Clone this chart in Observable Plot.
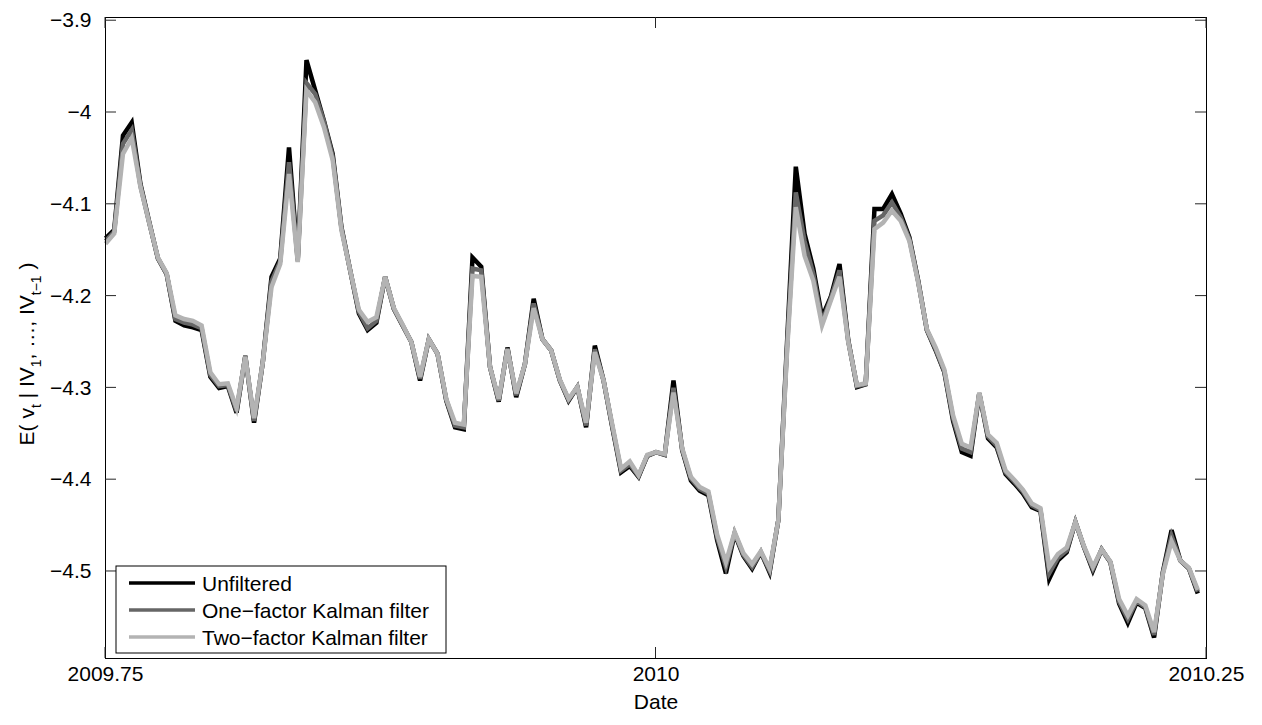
<!DOCTYPE html>
<html>
<head>
<meta charset="utf-8">
<script src="https://cdn.jsdelivr.net/npm/d3@7"></script>
<script src="https://cdn.jsdelivr.net/npm/@observablehq/plot@0.6"></script>
<style>
  html, body { margin: 0; padding: 0; background: #fff; }
  #chart svg { display: block; }
</style>
</head>
<body>
<div id="chart"></div>
<script>
// Daily observations (trading days) starting at 2009.75
const startYear = 2009.75;
const tradingDaysPerYear = 252;

const unfiltered = [
  -4.137,-4.128,-4.025,-4.011,-4.078,-4.119,-4.159,-4.176,-4.227,-4.232,
  -4.234,-4.237,-4.288,-4.300,-4.298,-4.327,-4.265,-4.338,-4.272,-4.179,
  -4.159,-4.038,-4.160,-3.943,-3.976,-4.009,-4.045,-4.125,-4.172,-4.219,
  -4.237,-4.229,-4.179,-4.214,-4.232,-4.250,-4.292,-4.247,-4.263,-4.314,
  -4.343,-4.345,-4.158,-4.168,-4.277,-4.315,-4.256,-4.310,-4.274,-4.203,
  -4.247,-4.259,-4.292,-4.314,-4.299,-4.343,-4.254,-4.292,-4.343,-4.392,
  -4.385,-4.397,-4.374,-4.370,-4.373,-4.292,-4.368,-4.401,-4.412,-4.417,
  -4.466,-4.502,-4.459,-4.483,-4.497,-4.479,-4.501,-4.444,-4.250,-4.059,
  -4.132,-4.170,-4.223,-4.201,-4.165,-4.248,-4.299,-4.296,-4.105,-4.105,
  -4.089,-4.110,-4.136,-4.183,-4.237,-4.259,-4.283,-4.336,-4.370,-4.374,
  -4.306,-4.355,-4.365,-4.394,-4.404,-4.415,-4.430,-4.434,-4.508,-4.488,
  -4.479,-4.446,-4.474,-4.499,-4.476,-4.490,-4.535,-4.556,-4.534,-4.540,
  -4.572,-4.501,-4.455,-4.488,-4.497,-4.524
];

const oneFactor = [
  -4.140,-4.130,-4.034,-4.019,-4.080,-4.120,-4.159,-4.176,-4.225,-4.229,
  -4.231,-4.235,-4.286,-4.298,-4.297,-4.325,-4.266,-4.336,-4.272,-4.184,
  -4.162,-4.054,-4.162,-3.968,-3.980,-4.010,-4.048,-4.126,-4.172,-4.217,
  -4.235,-4.227,-4.179,-4.214,-4.232,-4.250,-4.290,-4.247,-4.263,-4.313,
  -4.341,-4.343,-4.170,-4.172,-4.277,-4.314,-4.257,-4.308,-4.274,-4.208,
  -4.247,-4.259,-4.292,-4.313,-4.299,-4.341,-4.258,-4.292,-4.342,-4.390,
  -4.383,-4.396,-4.374,-4.370,-4.373,-4.300,-4.367,-4.399,-4.410,-4.415,
  -4.463,-4.495,-4.458,-4.482,-4.495,-4.479,-4.499,-4.444,-4.256,-4.087,
  -4.140,-4.176,-4.228,-4.203,-4.172,-4.249,-4.298,-4.296,-4.118,-4.112,
  -4.098,-4.114,-4.138,-4.184,-4.237,-4.258,-4.282,-4.333,-4.366,-4.370,
  -4.306,-4.353,-4.363,-4.392,-4.402,-4.413,-4.428,-4.433,-4.502,-4.485,
  -4.477,-4.446,-4.474,-4.497,-4.476,-4.490,-4.533,-4.552,-4.532,-4.539,
  -4.569,-4.502,-4.461,-4.488,-4.497,-4.522
];

const twoFactor = [
  -4.143,-4.132,-4.045,-4.028,-4.081,-4.120,-4.158,-4.175,-4.221,-4.225,
  -4.227,-4.232,-4.283,-4.296,-4.295,-4.322,-4.266,-4.333,-4.272,-4.190,
  -4.165,-4.067,-4.163,-3.976,-3.989,-4.016,-4.052,-4.128,-4.172,-4.215,
  -4.228,-4.223,-4.179,-4.213,-4.231,-4.250,-4.288,-4.247,-4.263,-4.312,
  -4.338,-4.340,-4.178,-4.179,-4.277,-4.312,-4.258,-4.306,-4.274,-4.213,
  -4.247,-4.259,-4.291,-4.312,-4.299,-4.338,-4.261,-4.292,-4.340,-4.388,
  -4.380,-4.395,-4.373,-4.370,-4.372,-4.305,-4.366,-4.397,-4.408,-4.413,
  -4.460,-4.490,-4.457,-4.480,-4.492,-4.478,-4.497,-4.444,-4.260,-4.103,
  -4.156,-4.183,-4.232,-4.205,-4.179,-4.250,-4.297,-4.295,-4.127,-4.120,
  -4.107,-4.118,-4.140,-4.185,-4.236,-4.256,-4.280,-4.330,-4.361,-4.365,
  -4.305,-4.351,-4.360,-4.390,-4.400,-4.411,-4.426,-4.431,-4.495,-4.481,
  -4.474,-4.446,-4.473,-4.495,-4.476,-4.489,-4.530,-4.548,-4.530,-4.537,
  -4.566,-4.503,-4.467,-4.488,-4.496,-4.520
];

const seriesNames = ["Unfiltered", "One\u2212factor Kalman filter", "Two\u2212factor Kalman filter"];
const seriesColors = ["#000000", "#666666", "#b3b3b3"];

const xTicks = [2009.75, 2010, 2010.25];
const xTickLabels = ["2009.75", "2010", "2010.25"];
const yTicks = [-3.9, -4, -4.1, -4.2, -4.3, -4.4, -4.5];
const yTickLabels = ["\u22123.9", "\u22124", "\u22124.1", "\u22124.2", "\u22124.3", "\u22124.4", "\u22124.5"];

// Long-format table for the line mark
const rows = [];
[unfiltered, oneFactor, twoFactor].forEach((vals, s) => {
  vals.forEach((v, i) => rows.push({series: seriesNames[s], date: startYear + i / tradingDaysPerYear, value: v}));
});

const FONT = "'Liberation Sans', Arial, Helvetica, sans-serif";

const chart = Plot.plot({
  width: 1262,
  height: 725,
  marginLeft: 105,
  marginRight: 56,
  marginTop: 17,
  marginBottom: 67,
  style: {fontFamily: FONT, fontSize: "21px", background: "#fff", color: "#000"},
  x: {domain: [2009.75, 2010.25]},
  y: {domain: [-4.5948, -3.8965]},
  color: {domain: seriesNames, range: seriesColors},
  marks: [
    Plot.line(rows, {
      x: "date", y: "value", z: "series", stroke: "series",
      strokeWidth: 4.5, strokeLinejoin: "miter", strokeMiterlimit: 4, strokeLinecap: "butt"
    }),
    Plot.frame({stroke: "#000", strokeWidth: 1}),
    Plot.axisX(xTicks, {
      tickSize: 0, tickPadding: 8, label: null, fontSize: 21,
      tickFormat: d => xTickLabels[xTicks.indexOf(d)]
    }),
    Plot.axisY(yTicks, {
      tickSize: 0, tickPadding: 14, label: null, fontSize: 21,
      tickFormat: d => yTickLabels[yTicks.indexOf(d)]
    }),
    Plot.text(["Date"], {frameAnchor: "bottom", dy: 50, fontSize: 21, fill: "#000"})
  ]
});

document.getElementById("chart").appendChild(chart);

{
  const svg = d3.select(chart);
  const sx = chart.scale("x");
  const sy = chart.scale("y");
  const [plotLeft, plotRight] = sx.range;
  const [plotBottom, plotTop] = sy.range;
  const tickLen = 11;

  // Inward tick marks on all four sides of the box
  const ticks = svg.append("g").attr("stroke", "#262626").attr("stroke-width", 1);
  xTicks.forEach(t => {
    const x = sx.apply(t);
    ticks.append("line").attr("x1", x).attr("x2", x).attr("y1", plotBottom).attr("y2", plotBottom - tickLen);
    ticks.append("line").attr("x1", x).attr("x2", x).attr("y1", plotTop).attr("y2", plotTop + tickLen);
  });
  yTicks.forEach(t => {
    const y = sy.apply(t);
    ticks.append("line").attr("x1", plotLeft).attr("x2", plotLeft + tickLen).attr("y1", y).attr("y2", y);
    ticks.append("line").attr("x1", plotRight).attr("x2", plotRight - tickLen).attr("y1", y).attr("y2", y);
  });

  // Y axis label with subscripts
  const yLabel = svg.append("text")
    .attr("transform", `translate(34, 354) rotate(-90)`)
    .attr("text-anchor", "middle")
    .attr("font-family", FONT)
    .attr("font-size", 21)
    .attr("fill", "#000");
  const labelParts = [
    ["E( v", false], ["t", true], [" | IV", false], ["1", true],
    [", \u2026, IV", false], ["t\u22121", true], [" )", false]
  ];
  labelParts.forEach(([txt, sub], i) => {
    const ts = yLabel.append("tspan").text(txt);
    if (sub) ts.attr("font-size", 14).attr("dy", 7);
    else if (i > 0 && labelParts[i - 1][1]) ts.attr("dy", -7);
  });

  // Legend box in the lower-left corner of the axes
  const legend = svg.append("g")
    .attr("font-family", FONT).attr("font-size", 21).attr("text-anchor", "start");
  const lgX = plotLeft + 11, lgY = plotBottom - 92, lgW = 330, lgH = 87;
  legend.append("rect")
    .attr("x", lgX).attr("y", lgY).attr("width", lgW).attr("height", lgH)
    .attr("fill", "#fff").attr("stroke", "#000").attr("stroke-width", 1);
  seriesNames.forEach((name, i) => {
    const cy = lgY + 17 + i * 27;
    legend.append("line")
      .attr("x1", lgX + 13).attr("x2", lgX + 79).attr("y1", cy).attr("y2", cy)
      .attr("stroke", seriesColors[i]).attr("stroke-width", 3.5);
    legend.append("text")
      .attr("x", lgX + 86).attr("y", cy).attr("dy", "0.36em")
      .attr("text-anchor", "start")
      .attr("fill", "#000").text(name);
  });
}
</script>
</body>
</html>
